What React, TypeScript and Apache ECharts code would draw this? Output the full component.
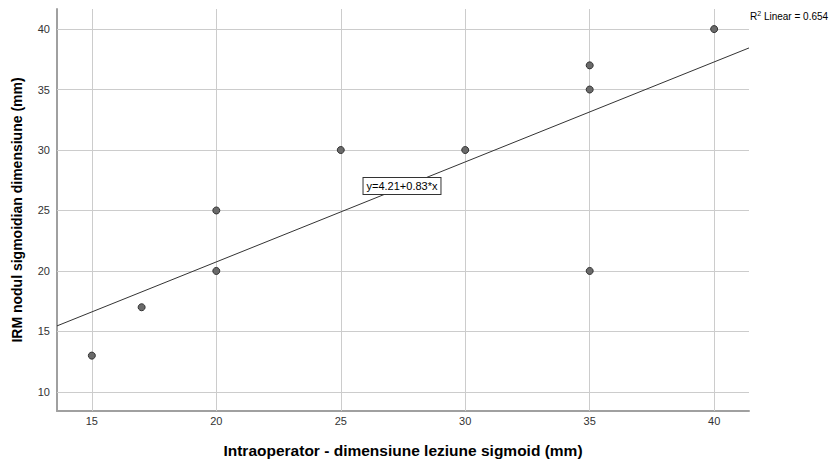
import React, { useEffect, useRef } from "react";
import * as echarts from "echarts";

const xValues = [15, 17, 20, 20, 25, 30, 35, 35, 35, 40];
const yValues = [13, 17, 20, 25, 30, 30, 37, 35, 20, 40];
const xTicks = [15, 20, 25, 30, 35, 40];
const yTicks = [10, 15, 20, 25, 30, 35, 40];
const xRange = [13.6, 41.4];
const yRange = [8.42, 41.66];
const xTitle = "Intraoperator - dimensiune leziune sigmoid (mm)";
const yTitle = "IRM nodul sigmoidian dimensiune (mm)";

function fit(xs: number[], ys: number[]) {
  const n = xs.length;
  const mx = xs.reduce((a, b) => a + b, 0) / n;
  const my = ys.reduce((a, b) => a + b, 0) / n;
  let sxy = 0, sxx = 0, syy = 0;
  for (let i = 0; i < n; i++) {
    sxy += (xs[i] - mx) * (ys[i] - my);
    sxx += (xs[i] - mx) ** 2;
    syy += (ys[i] - my) ** 2;
  }
  const b = sxy / sxx;
  const a = my - b * mx;
  const r2 = (sxy * sxy) / (sxx * syy);
  return { a, b, r2 };
}

export default function App() {
  const ref = useRef<HTMLDivElement>(null);
  useEffect(() => {
    if (!ref.current) return;
    const chart = echarts.init(ref.current, undefined, { renderer: "svg" });
    const { a, b, r2 } = fit(xValues, yValues);
    const font = "Liberation Sans, Arial, sans-serif";
    const gridStyle = { color: "#cccccc", width: 1, type: "solid" as const };
    chart.setOption({
      animation: false,
      grid: {
        left: 57,
        top: 9,
        right: 84,
        bottom: 48,
        containLabel: false,
        outerBoundsMode: "none",
      },
      xAxis: {
        type: "value",
        min: xRange[0],
        max: xRange[1],
        name: xTitle,
        nameLocation: "middle",
        nameGap: 31,
        nameTextStyle: { fontFamily: font, fontSize: 15.5, fontWeight: "bold", color: "#000" },
        axisLine: { show: true, lineStyle: { color: "#a0a0a0", width: 2 } },
        axisTick: { show: false },
        splitLine: { show: false },
        axisLabel: { customValues: xTicks, fontFamily: font, fontSize: 11, color: "#333", margin: 4 },
      },
      yAxis: {
        type: "value",
        min: yRange[0],
        max: yRange[1],
        name: yTitle,
        nameLocation: "middle",
        nameGap: 33,
        nameRotate: 90,
        nameTextStyle: { fontFamily: font, fontSize: 14, fontWeight: "bold", color: "#000" },
        axisLine: { show: true, lineStyle: { color: "#a0a0a0", width: 2 } },
        axisTick: { show: false },
        splitLine: { show: false },
        axisLabel: { customValues: yTicks, fontFamily: font, fontSize: 11, color: "#333", margin: 7 },
      },
      series: [
        {
          type: "line",
          data: [],
          silent: true,
          z: 1,
          markLine: {
            silent: true,
            z: 1,
            symbol: "none",
            animation: false,
            label: { show: false },
            lineStyle: gridStyle,
            data: [
              ...xTicks.map((v) => ({ xAxis: v })),
              ...yTicks.map((v) => ({ yAxis: v })),
            ],
          },
        },
        {
          type: "line",
          z: 6,
          symbol: "none",
          silent: true,
          lineStyle: { color: "#333333", width: 1 },
          data: [
            [xRange[0], a + b * xRange[0]],
            [xRange[1], a + b * xRange[1]],
          ],
        },
        {
          type: "scatter",
          z: 8,
          symbolSize: 7,
          itemStyle: { color: "#6a6a6a", borderColor: "#333333", borderWidth: 1, opacity: 1 },
          data: xValues.map((x, i) => [x, yValues[i]]),
        },
      ],
      graphic: [
        {
          type: "text",
          z: 10,
          style: {
            text: `y=${a.toFixed(2)}+${b.toFixed(2)}*x`,
            x: 402,
            y: 186,
            align: "center",
            verticalAlign: "middle",
            font: `11px ${font}`,
            fill: "#000",
            backgroundColor: "#ffffff",
            borderColor: "#333333",
            borderWidth: 1,
            padding: [3, 3, 2, 3],
          },
        },
        {
          type: "text",
          z: 10,
          style: {
            text: `R{sup|2} Linear = ${r2.toFixed(3)}`,
            x: 750,
            y: 16,
            align: "left",
            verticalAlign: "middle",
            font: `10px ${font}`,
            fill: "#000",
            rich: {
              sup: { fontSize: 7, fontFamily: font, fill: "#000", padding: [0, 0, 6, 0] },
            },
          },
        },
      ],
    });
    return () => chart.dispose();
  }, []);
  return (
    <div
      ref={ref}
      style={{ position: "fixed", left: 0, top: 0, width: 833, height: 459, background: "#fff" }}
    />
  );
}
